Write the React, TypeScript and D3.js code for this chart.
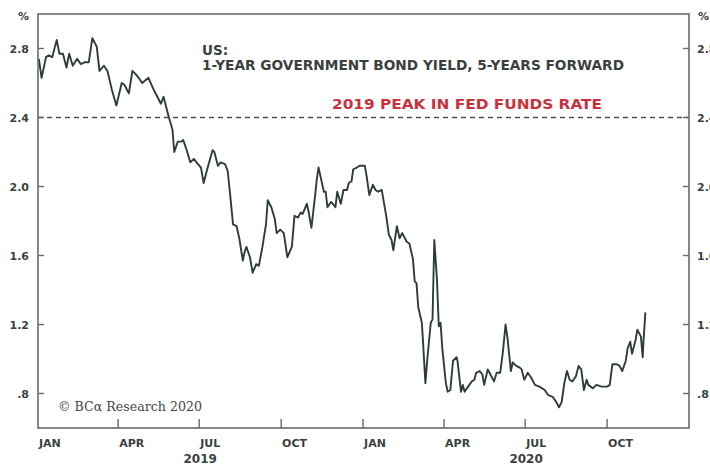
import React from "react";
import * as d3 from "d3";

// ---- data ----
const dates: string[] = [
  "2019-01-02","2019-01-05","2019-01-10","2019-01-13","2019-01-17","2019-01-22","2019-01-25","2019-01-29",
  "2019-02-02","2019-02-05","2019-02-09","2019-02-14","2019-02-18","2019-02-22","2019-02-27",
  "2019-03-03","2019-03-08","2019-03-11","2019-03-16","2019-03-20","2019-03-25","2019-03-30",
  "2019-04-05","2019-04-08","2019-04-13","2019-04-17","2019-04-21","2019-04-24","2019-04-28",
  "2019-05-05","2019-05-11","2019-05-15","2019-05-19","2019-05-22","2019-05-25","2019-05-28",
  "2019-06-01","2019-06-03","2019-06-07","2019-06-11","2019-06-13","2019-06-17","2019-06-21","2019-06-25","2019-06-28",
  "2019-07-03","2019-07-06","2019-07-10","2019-07-16","2019-07-18","2019-07-22","2019-07-25","2019-07-30",
  "2019-08-02","2019-08-05","2019-08-08","2019-08-12","2019-08-15","2019-08-19","2019-08-21","2019-08-23","2019-08-27","2019-08-30",
  "2019-09-03","2019-09-06","2019-09-10","2019-09-14","2019-09-16","2019-09-20","2019-09-24","2019-09-26","2019-09-30",
  "2019-10-04","2019-10-08","2019-10-13","2019-10-16","2019-10-20","2019-10-23","2019-10-25","2019-10-30",
  "2019-11-01","2019-11-04","2019-11-08","2019-11-10","2019-11-12","2019-11-15","2019-11-18","2019-11-20","2019-11-22","2019-11-26","2019-11-28",
  "2019-12-01","2019-12-03","2019-12-07","2019-12-10","2019-12-14","2019-12-16","2019-12-19","2019-12-21","2019-12-25","2019-12-28","2019-12-31",
  "2020-01-03","2020-01-05","2020-01-08","2020-01-12","2020-01-15","2020-01-18","2020-01-22","2020-01-24","2020-01-27","2020-01-30",
  "2020-02-02","2020-02-04","2020-02-08","2020-02-11","2020-02-14","2020-02-19","2020-02-22","2020-02-26","2020-02-28",
  "2020-03-01","2020-03-03","2020-03-07","2020-03-08","2020-03-11","2020-03-13","2020-03-17","2020-03-19","2020-03-21","2020-03-24","2020-03-26","2020-03-28","2020-03-30",
  "2020-04-03","2020-04-05","2020-04-08","2020-04-11","2020-04-15","2020-04-16","2020-04-20","2020-04-22","2020-04-24","2020-04-28",
  "2020-05-02","2020-05-05","2020-05-07","2020-05-11","2020-05-14","2020-05-16","2020-05-20","2020-05-23","2020-05-27","2020-05-30",
  "2020-06-03","2020-06-06","2020-06-09","2020-06-11","2020-06-15","2020-06-17","2020-06-21","2020-06-25","2020-06-27","2020-06-30",
  "2020-07-04","2020-07-08","2020-07-12","2020-07-17","2020-07-23","2020-07-27",
  "2020-08-01","2020-08-05","2020-08-08","2020-08-11","2020-08-14","2020-08-17","2020-08-20","2020-08-23","2020-08-27","2020-08-30",
  "2020-09-02","2020-09-05","2020-09-08","2020-09-10","2020-09-15","2020-09-19","2020-09-25",
  "2020-10-01","2020-10-04","2020-10-07","2020-10-12","2020-10-15","2020-10-18","2020-10-22","2020-10-24","2020-10-27","2020-10-29",
  "2020-11-02","2020-11-04","2020-11-08","2020-11-10","2020-11-11","2020-11-13",
];

const yields: number[] = [
  2.74,2.63,2.75,2.76,2.75,2.85,2.77,2.77,
  2.69,2.77,2.70,2.74,2.71,2.72,2.72,
  2.86,2.81,2.67,2.70,2.67,2.56,2.47,
  2.60,2.59,2.54,2.67,2.65,2.63,2.60,
  2.63,2.56,2.52,2.48,2.52,2.46,2.40,
  2.33,2.20,2.26,2.26,2.27,2.21,2.14,2.16,2.14,
  2.11,2.02,2.10,2.21,2.20,2.12,2.14,2.13,
  2.09,1.94,1.78,1.77,1.70,1.57,1.62,1.65,1.59,1.50,
  1.55,1.54,1.65,1.78,1.92,1.88,1.81,1.73,1.75,
  1.73,1.59,1.65,1.83,1.82,1.85,1.84,1.90,
  1.85,1.76,1.94,2.04,2.11,2.04,1.97,1.97,1.88,1.91,1.90,
  1.88,1.97,1.90,1.98,1.98,2.02,2.03,2.10,2.11,2.12,2.12,
  2.12,2.06,1.95,2.01,1.98,1.97,1.98,1.92,1.83,1.72,
  1.69,1.63,1.77,1.70,1.73,1.68,1.67,1.58,1.45,
  1.44,1.30,1.21,1.13,0.86,0.99,1.21,1.23,1.69,1.46,1.19,1.21,1.06,
  0.86,0.81,0.82,0.99,1.01,0.99,0.81,0.85,0.81,0.84,
  0.87,0.88,0.92,0.93,0.91,0.85,0.94,0.91,0.87,0.92,
  0.92,1.04,1.20,1.13,0.93,0.98,0.96,0.95,0.94,0.88,
  0.92,0.89,0.85,0.84,0.82,0.79,
  0.78,0.75,0.72,0.75,0.86,0.93,0.88,0.87,0.90,0.96,
  0.94,0.82,0.88,0.85,0.83,0.85,0.84,
  0.84,0.85,0.97,0.97,0.96,0.93,0.99,1.06,1.10,1.03,
  1.11,1.17,1.13,1.01,1.11,1.27,
];

const yTickValues: number[] = [2.8, 2.4, 2.0, 1.6, 1.2, 0.8];
const yTickLabels: string[] = ["2.8", "2.4", "2.0", "1.6", "1.2", ".8"];
const yearLabels: string[] = ["2019", "2020"];
const peakLevel = 2.4;
const titleLine1 = "US:";
const titleLine2 = "1-YEAR GOVERNMENT BOND YIELD, 5-YEARS FORWARD";
const peakLabel = "2019 PEAK IN FED FUNDS RATE";
const sourceLabel = "© BCα Research 2020";

const W = 710;
const H = 466;
const M = { left: 38, right: 689, top: 14, bottom: 428 };

const TEXT = "#3a3f40";
const FRAME = "#666b6b";
const LINE = "#2e3c3c";
const RED = "#c8323e";
const FONT = "'DejaVu Sans', sans-serif";

export default function App() {
  const parse = d3.timeParse("%Y-%m-%d");
  const pts = dates.map((d, i) => ({ date: parse(d) as Date, v: yields[i] }));

  const x = d3
    .scaleTime()
    .domain([new Date(2019, 0, 1), new Date(2021, 0, 1)])
    .range([M.left, M.right]);
  const y = d3.scaleLinear().domain([0.6, 3.0]).range([M.bottom, M.top]);

  const line = d3
    .line<{ date: Date; v: number }>()
    .x((d) => x(d.date))
    .y((d) => y(d.v));

  const monthTicks = d3.timeMonth.every(3)!.range(new Date(2019, 0, 1), new Date(2021, 0, 1));
  const fmt = d3.timeFormat("%b");

  return (
    <div style={{ position: "absolute", left: 0, top: 0 }}>
      <svg width={W} height={H} style={{ display: "block", background: "#fff" }}>
        <rect x={0} y={0} width={W} height={H} fill="#fff" />
        {/* dashed peak line */}
        <line
          x1={M.left}
          x2={M.right}
          y1={y(peakLevel)}
          y2={y(peakLevel)}
          stroke="#4a4f50"
          strokeWidth={1.3}
          strokeDasharray="5,4"
        />
        {/* data line */}
        <path d={line(pts) || ""} fill="none" stroke={LINE} strokeWidth={1.9} strokeLinejoin="round" />

        {/* frame */}
        <rect
          x={M.left}
          y={M.top}
          width={M.right - M.left}
          height={M.bottom - M.top}
          fill="none"
          stroke={FRAME}
          strokeWidth={1.6}
        />

        {/* y ticks & labels */}
        {yTickValues.map((v, i) => (
          <g key={"yt" + i}>
            <line x1={M.left} x2={M.left + 6} y1={y(v)} y2={y(v)} stroke={FRAME} strokeWidth={1.4} />
            <line x1={M.right - 6} x2={M.right} y1={y(v)} y2={y(v)} stroke={FRAME} strokeWidth={1.4} />
            <text
              x={29}
              y={y(v) + 4}
              textAnchor="end"
              fontFamily={FONT}
              fontWeight="bold"
              fontSize={11}
              fill={TEXT}
            >
              {yTickLabels[i]}
            </text>
            <text
              x={697}
              y={y(v) + 4}
              textAnchor="start"
              fontFamily={FONT}
              fontWeight="bold"
              fontSize={11}
              fill={TEXT}
            >
              {yTickLabels[i]}
            </text>
          </g>
        ))}
        <text x={29} y={20} textAnchor="end" fontFamily={FONT} fontWeight="bold" fontSize={11} fill={TEXT}>
          %
        </text>
        <text x={698} y={20} textAnchor="start" fontFamily={FONT} fontWeight="bold" fontSize={11} fill={TEXT}>
          %
        </text>

        {/* x ticks & labels */}
        {monthTicks.map((d, i) => {
          const xp = x(d);
          return (
            <g key={"xt" + i}>
              {i > 0 && (
                <line x1={xp} x2={xp} y1={M.bottom} y2={M.bottom - 9} stroke={FRAME} strokeWidth={1.4} />
              )}
              <text
                x={xp + 1}
                y={447}
                textAnchor="start"
                fontFamily={FONT}
                fontWeight="bold"
                fontSize={11}
                fill={TEXT}
              >
                {fmt(d).toUpperCase()}
              </text>
            </g>
          );
        })}
        {yearLabels.map((yr, i) => (
          <text
            key={"yr" + i}
            x={x(new Date(+yr, 6, 1)) + 1}
            y={463}
            textAnchor="middle"
            fontFamily={FONT}
            fontWeight="bold"
            fontSize={12}
            fill={TEXT}
          >
            {yr}
          </text>
        ))}

        {/* titles */}
        <text x={202} y={55} fontFamily={FONT} fontWeight="bold" fontSize={13.5} fill={TEXT}>
          {titleLine1}
        </text>
        <text
          x={202}
          y={70}
          fontFamily={FONT}
          fontWeight="bold"
          fontSize={13.5}
          fill={TEXT}
          textLength={422}
          lengthAdjust="spacingAndGlyphs"
        >
          {titleLine2}
        </text>
        <text
          x={332}
          y={109}
          fontFamily={FONT}
          fontWeight="bold"
          fontSize={14}
          fill={RED}
          textLength={270}
          lengthAdjust="spacingAndGlyphs"
        >
          {peakLabel}
        </text>
        <text
          x={58}
          y={411}
          fontFamily="'DejaVu Serif', 'Liberation Serif', serif"
          fontSize={12}
          fill="#444"
          textLength={144}
          lengthAdjust="spacingAndGlyphs"
        >
          {sourceLabel}
        </text>
      </svg>
    </div>
  );
}
